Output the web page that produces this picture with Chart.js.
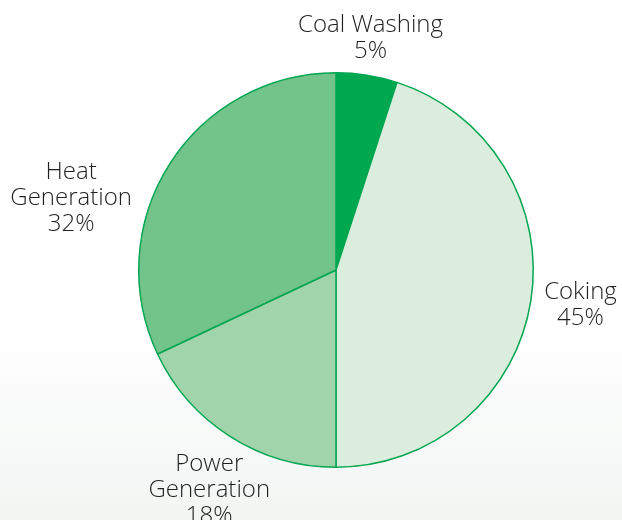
<!DOCTYPE html>
<html>
<head>
<meta charset="utf-8">
<script src="https://cdn.jsdelivr.net/npm/chart.js@4"></script>
<style>
  html, body { margin: 0; padding: 0; }
  body {
    width: 622px; height: 520px; overflow: hidden;
    background: linear-gradient(to bottom, #ffffff 0%, #ffffff 62%, #f2f6f3 100%);
  }
  #wrap { position: relative; width: 622px; height: 520px; }
</style>
</head>
<body>
<div id="wrap"><canvas id="chart" width="622" height="520"></canvas></div>
<script>
// coal use by sector (share, %)
const categories = ['Coal Washing', 'Coking', 'Power Generation', 'Heat Generation'];
const shares = [5, 45, 18, 32];
const labelLines = [['Coal Washing'], ['Coking'], ['Power', 'Generation'], ['Heat', 'Generation']];
const sliceColors = ['#00a94f', '#dbeedd', '#a1d4ab', '#72c48b'];

// where each label sits relative to its slice's outer mid point
const labelNudge = [[-1, -7], [20, 0], [-5, 28], [-73, 50]];

const sliceLabels = {
	id: 'sliceLabels',
	afterDraw(chart) {
		const ctx = chart.ctx;
		const meta = chart.getDatasetMeta(0);
		ctx.save();
		ctx.font = '300 24px "Open Sans", sans-serif';
		ctx.fillStyle = '#1f1f1f';
		ctx.textAlign = 'center';
		ctx.textBaseline = 'middle';
		meta.data.forEach((arc, i) => {
			const p = arc.getProps(['x', 'y', 'startAngle', 'endAngle', 'outerRadius'], true);
			const mid = (p.startAngle + p.endAngle) / 2;
			const r = p.outerRadius + 30;
			let x = p.x + Math.cos(mid) * r + labelNudge[i][0];
			let y = p.y + Math.sin(mid) * r + labelNudge[i][1];
			const lines = labelLines[i].concat([shares[i] + '%']);
			const lh = 26;
			const top = y - (lines.length - 1) * lh / 2;
			lines.forEach((t, k) => ctx.fillText(t, x, top + k * lh));
		});
		ctx.restore();
	}
};

let ctx = document.getElementById('chart').getContext('2d');
let myChart = new Chart(ctx, {
	type: 'pie',
	data: {
		labels: categories,
		datasets: [{
			data: shares,
			backgroundColor: sliceColors,
			borderColor: '#00a651',
			borderWidth: 1.5
		}]
	},
	options: {
		responsive: false,
		animation: false,
		layout: { padding: { top: 72, bottom: 52, left: 138, right: 88 } },
		plugins: {
			legend: { display: false },
			tooltip: { enabled: false }
		}
	},
	plugins: [sliceLabels]
});
</script>
</body>
</html>
